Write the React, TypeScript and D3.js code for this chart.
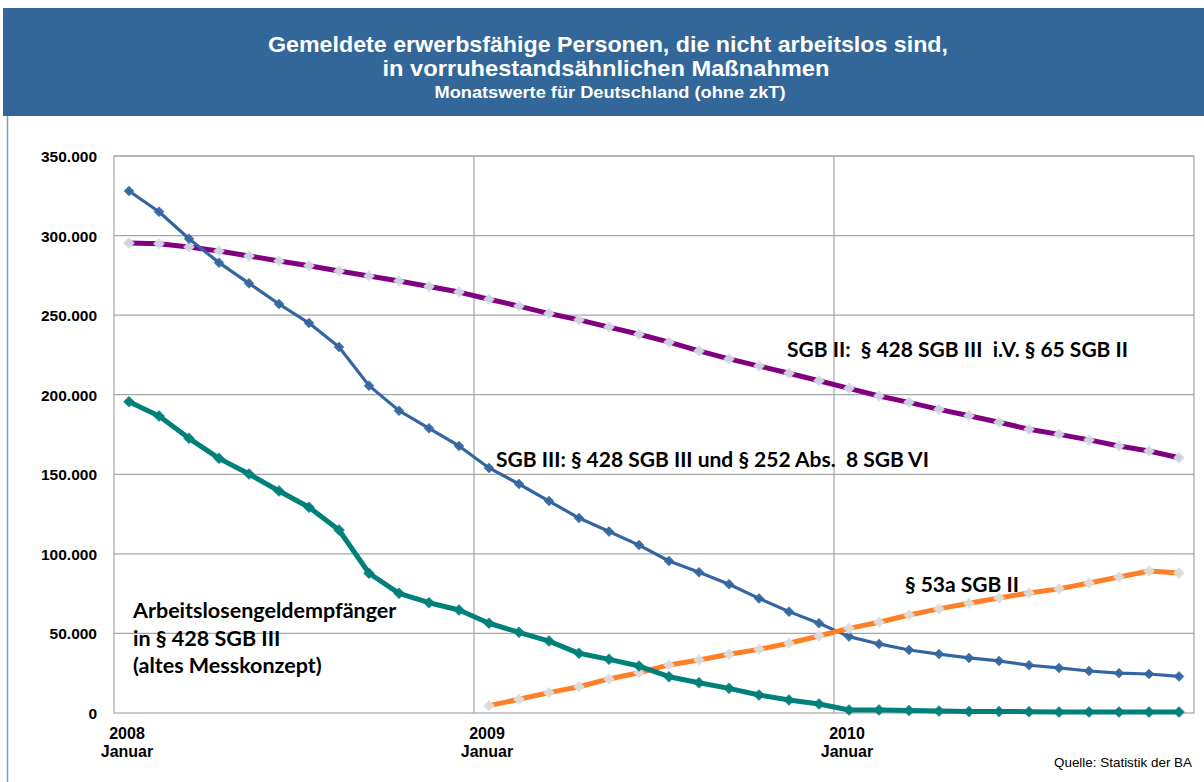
import React from "react";
import * as d3 from "d3";

const years = ["2008", "2009", "2010"];
const monthNames = ["Jan", "Feb", "Mär", "Apr", "Mai", "Jun", "Jul", "Aug", "Sep", "Okt", "Nov", "Dez"];
const months: string[] = years.flatMap((y) => monthNames.map((m) => `${m} ${y}`));

const yTicks = [0, 50000, 100000, 150000, 200000, 250000, 300000, 350000];
const yTickLabels = ["0", "50.000", "100.000", "150.000", "200.000", "250.000", "300.000", "350.000"];
const xYearStarts = ["Jan 2008", "Jan 2009", "Jan 2010"];
const xLabelsTop = ["2008", "2009", "2010"];
const xLabelsBottom = ["Januar", "Januar", "Januar"];

// in thousands
const sgb3 = [328, 315, 298, 283, 270, 257, 245, 230, 205.7, 190, 178.9, 167.8,
  154, 143.9, 133.2, 122.5, 114, 105.5, 95.5, 88.4, 80.9, 72, 63.7, 56.4,
  48, 43.4, 39.6, 37, 34.6, 32.7, 30, 28.3, 26.4, 25, 24.5, 23];
const sgb2 = [295.3, 294.9, 292.8, 290.3, 287.2, 284, 281, 277.7, 274.6, 271.5, 268, 264.5,
  260, 255.7, 251, 247, 242.5, 238, 233, 227.5, 222.5, 218, 213.5, 208.8,
  204, 199.2, 195.2, 190.8, 186.8, 182.7, 178.3, 175.1, 171.6, 167.8, 164.6, 160.4];
const alg = [195.6, 186.6, 172.6, 160, 150.2, 139.5, 129.3, 115, 87.8, 75.2, 69.3, 64.7,
  56.4, 50.7, 45.2, 37.5, 33.7, 29.5, 22.8, 19, 15.5, 11.3, 8.2, 5.7,
  1.9, 1.9, 1.5, 1.2, 1.0, 1.0, 0.8, 0.6, 0.6, 0.6, 0.6, 0.6];
const p53a: (number | null)[] = [null, null, null, null, null, null, null, null, null, null, null, null,
  4.6, 8.6, 12.8, 16.5, 21.4, 25.3, 30.2, 33.3, 36.9, 40, 43.8, 48.4,
  53.2, 57, 61.6, 65.4, 69, 72.3, 75.4, 78, 81.7, 85.5, 89.2, 88];

const titleLines = [
  "Gemeldete erwerbsfähige Personen, die nicht arbeitslos sind,",
  "in vorruhestandsähnlichen Maßnahmen",
  "Monatswerte für Deutschland (ohne zkT)",
];

const W = 1204, H = 782;
const L = 114, R = 1194, T = 156, B = 713;

export default function App() {
  const x = d3.scaleBand<string>().domain(months).range([L, R]).padding(0);
  const y = d3.scaleLinear().domain([0, 350000]).range([B, T]);
  const cx = (i: number) => (x(months[i]) as number) + x.bandwidth() / 2;

  const line = d3.line<number | null>()
    .defined((d) => d !== null)
    .x((_, i) => cx(i))
    .y((d) => y((d as number) * 1000));

  const diamond = (r: number) => `M0,${-r}L${r},0L0,${r}L${-r},0Z`;

  const series = [
    { data: sgb2, color: "#800080", width: 5, marker: "#D4DAE4", r: 5.5 },
    { data: sgb3, color: "#3366A0", width: 3.2, marker: "#35679F", r: 5 },
    { data: p53a, color: "#FF7F27", width: 5, marker: "#DEDEDE", r: 5.5 },
    { data: alg, color: "#00807A", width: 5, marker: "#00807A", r: 5.5 },
  ];

  const lblFont = "Lato, 'Open Sans', sans-serif";
  const axFont = "'Liberation Sans', Arial, sans-serif";

  return (
    <svg width={W} height={H} style={{ position: "absolute", left: 0, top: 0, background: "#fff" }}>
      {/* header */}
      <rect x={3} y={8} width={W - 3} height={108} fill="#336699" />
      <line x1={7.5} y1={116} x2={7.5} y2={H} stroke="#7E9CC6" strokeWidth={1.5} />
      <text x={608} y={52} textAnchor="middle" fill="#fff" fontFamily={axFont} fontWeight="bold" fontSize={22}
        textLength={680} lengthAdjust="spacingAndGlyphs">{titleLines[0]}</text>
      <text x={606} y={76} textAnchor="middle" fill="#fff" fontFamily={axFont} fontWeight="bold" fontSize={22}
        textLength={447} lengthAdjust="spacingAndGlyphs">{titleLines[1]}</text>
      <text x={610} y={98} textAnchor="middle" fill="#fff" fontFamily={axFont} fontWeight="bold" fontSize={16}
        textLength={351} lengthAdjust="spacingAndGlyphs">{titleLines[2]}</text>

      {/* grid */}
      {yTicks.slice(1).map((t) => (
        <line key={t} x1={L} x2={R} y1={y(t)} y2={y(t)} stroke="#A6A6A6" strokeWidth={1.2} />
      ))}
      {xYearStarts.slice(1).map((m) => (
        <line key={m} x1={x(m) as number} x2={x(m) as number} y1={T} y2={B} stroke="#A6A6A6" strokeWidth={1.2} />
      ))}
      <rect x={L} y={T} width={R - L} height={B - T} fill="none" stroke="#A6A6A6" strokeWidth={1.2} />

      {/* y axis labels */}
      {yTicks.map((t, i) => (
        <text key={t} x={97} y={y(t) + 6} textAnchor="end" fontFamily={axFont} fontWeight="bold" fontSize={15.5}
          fill="#000">{yTickLabels[i]}</text>
      ))}
      {/* x axis labels */}
      {xYearStarts.map((m, i) => (
        <g key={m}>
          <text x={cx(months.indexOf(m)) - 2} y={739} textAnchor="middle" fontFamily={axFont} fontWeight="bold"
            fontSize={16} fill="#000">{xLabelsTop[i]}</text>
          <text x={cx(months.indexOf(m)) - 2} y={757} textAnchor="middle" fontFamily={axFont} fontWeight="bold"
            fontSize={16} fill="#000">{xLabelsBottom[i]}</text>
        </g>
      ))}

      {/* series */}
      {series.map((s, si) => (
        <g key={si}>
          <path d={line(s.data) as string} fill="none" stroke={s.color} strokeWidth={s.width}
            strokeLinejoin="round" strokeLinecap="round" />
          {s.data.map((v, i) => v === null ? null : (
            <path key={i} d={diamond(s.r)} transform={`translate(${cx(i)},${y(v * 1000)})`} fill={s.marker}
              stroke={s.marker} strokeWidth={0.5} opacity={0.95} />
          ))}
        </g>
      ))}

      {/* annotations */}
      <text x={787} y={357} fontFamily={lblFont} fontWeight="bold" fontSize={21} fill="#000"
        style={{ whiteSpace: "pre" }}>{"SGB II:  § 428 SGB III  i.V. § 65 SGB II"}</text>
      <text x={496} y={467} fontFamily={lblFont} fontWeight="bold" fontSize={21} fill="#000"
        style={{ whiteSpace: "pre" }}>{"SGB III: § 428 SGB III und § 252 Abs.  8 SGB VI"}</text>
      <text x={905} y={592} fontFamily={lblFont} fontWeight="bold" fontSize={21} fill="#000">§ 53a SGB II</text>
      <text x={133} y={618} fontFamily={lblFont} fontWeight="bold" fontSize={21.5} fill="#000">Arbeitslosengeldempfänger</text>
      <text x={133} y={646} fontFamily={lblFont} fontWeight="bold" fontSize={21.5} fill="#000">in § 428 SGB III</text>
      <text x={133} y={673} fontFamily={lblFont} fontWeight="bold" fontSize={21.5} fill="#000">(altes Messkonzept)</text>

      <text x={1192} y={767} textAnchor="end" fontFamily={axFont} fontSize={13} fill="#000"
        textLength={138} lengthAdjust="spacingAndGlyphs">Quelle: Statistik der BA</text>
    </svg>
  );
}
